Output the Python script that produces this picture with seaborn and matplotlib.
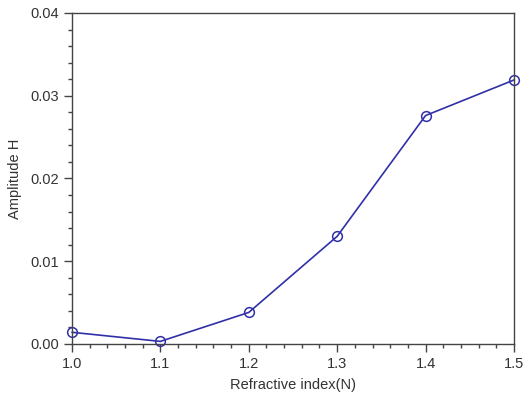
import matplotlib
matplotlib.use("Agg")
import matplotlib.pyplot as plt
import seaborn as sns
import pandas as pd
from matplotlib.ticker import MultipleLocator

refractive_index = [1.0, 1.1, 1.2, 1.3, 1.4, 1.5]
amplitude = [0.0014, 0.0003, 0.0038, 0.0130, 0.0276, 0.0319]

df = pd.DataFrame({"N": refractive_index, "H": amplitude})

sns.set_style("white")
plt.rcParams["font.family"] = ["Liberation Sans", "DejaVu Sans"]

fig = plt.figure(figsize=(5.25, 3.93), dpi=100)
ax = fig.add_axes([0.137, 0.125, 0.842, 0.842])

line_color = "#3030a8"
sns.lineplot(data=df, x="N", y="H", ax=ax, color=line_color, linewidth=1.2,
             marker="o", markersize=7, markerfacecolor="none",
             markeredgecolor=line_color, markeredgewidth=1.1, clip_on=False)

ax.set_xlim(1.0, 1.5)
ax.set_ylim(0, 0.04)
ax.xaxis.set_major_locator(MultipleLocator(0.1))
ax.xaxis.set_minor_locator(MultipleLocator(0.02))
ax.yaxis.set_major_locator(MultipleLocator(0.01))
ax.yaxis.set_minor_locator(MultipleLocator(0.002))
ax.xaxis.set_major_formatter(matplotlib.ticker.FormatStrFormatter("%.1f"))
ax.yaxis.set_major_formatter(matplotlib.ticker.FormatStrFormatter("%.2f"))

for s in ax.spines.values():
    s.set_color("#444444")
    s.set_linewidth(1.0)

ax.tick_params(which="both", direction="out", bottom=True, left=True,
               top=False, right=False, color="#444444", labelcolor="#333333",
               labelsize=10.5)
ax.tick_params(which="major", length=6, width=1.0)
ax.tick_params(which="minor", length=3, width=1.0)

ax.set_xlabel("Refractive index(N)", fontsize=10.5, color="#333333", labelpad=5)
ax.set_ylabel("Amplitude H", fontsize=10.5, color="#333333", labelpad=6)

fig.savefig("out.png", dpi=100)
